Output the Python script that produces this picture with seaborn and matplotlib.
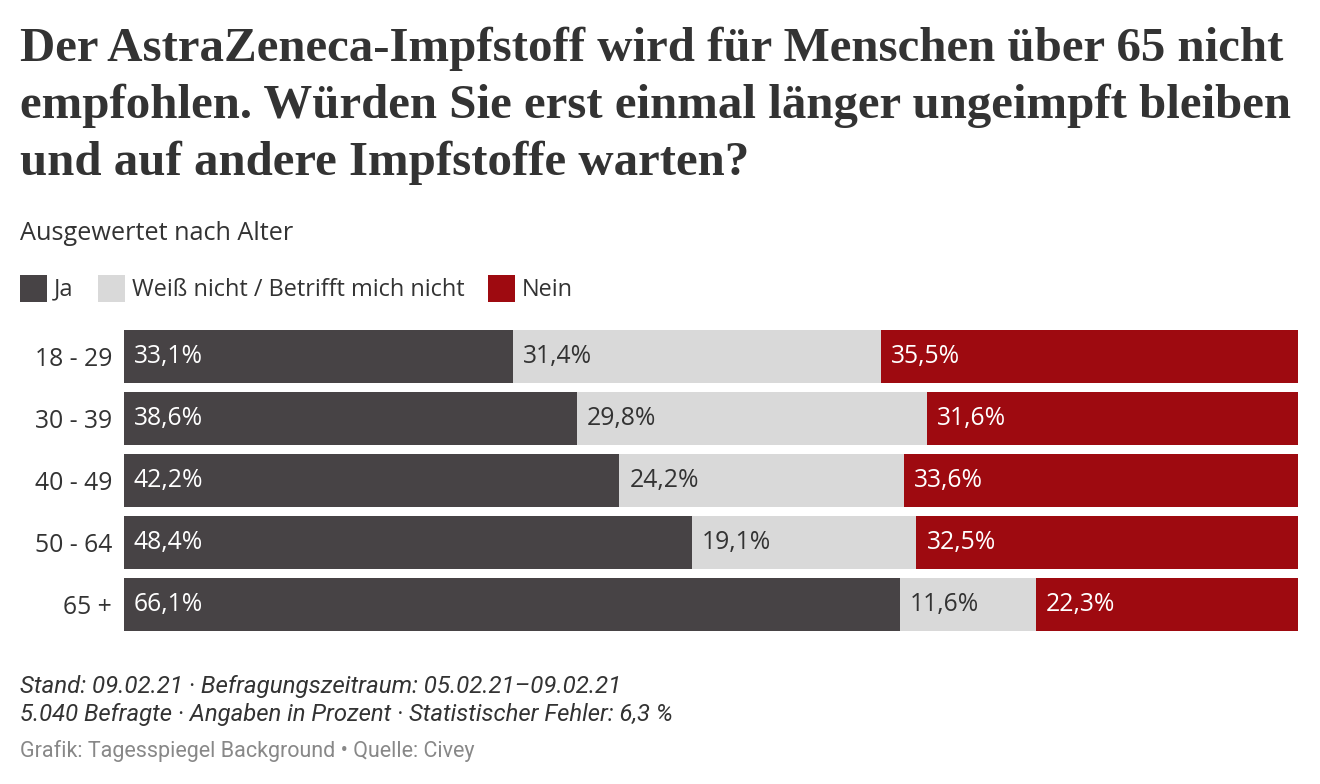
import matplotlib
matplotlib.use("Agg")
import matplotlib.pyplot as plt
import seaborn as sns
import numpy as np
import pandas as pd
from matplotlib.patches import Rectangle

ages = ["18 - 29", "30 - 39", "40 - 49", "50 - 64", "65 +"]
ja = [33.1, 38.6, 42.2, 48.4, 66.1]
weiss = [31.4, 29.8, 24.2, 19.1, 11.6]
nein = [35.5, 31.6, 33.6, 32.5, 22.3]
series_names = ["Ja", "Weiß nicht / Betrifft mich nicht", "Nein"]
colors = ["#474345", "#d9d9d9", "#9e0a10"]
label_colors = ["white", "#333333", "white"]

title_lines = ["Der AstraZeneca-Impfstoff wird für Menschen über 65 nicht",
               "empfohlen. Würden Sie erst einmal länger ungeimpft bleiben",
               "und auf andere Impfstoffe warten?"]
subtitle = "Ausgewertet nach Alter"
note1 = "Stand: 09.02.21 · Befragungszeitraum: 05.02.21–09.02.21"
note2 = "5.040 Befragte · Angaben in Prozent · Statistischer Fehler: 6,3 %"
source = "Grafik: Tagesspiegel Background • Quelle: Civey"

sns.set_theme(style="white")
SANS = ["Open Sans", "DejaVu Sans"]
plt.rcParams["font.family"] = SANS

W, H = 1320, 784
fig = plt.figure(figsize=(W / 100, H / 100), dpi=100)
fig.patch.set_facecolor("white")

ax = fig.add_axes([124 / W, (H - 631) / H, 1174 / W, 301 / H])

df = pd.DataFrame({"age": ages, "ja": ja, "weiss": weiss, "nein": nein})
df["c1"] = df["ja"]
df["c2"] = df["ja"] + df["weiss"]
df["c3"] = df["c2"] + df["nein"]

bw = 53 / 62
for col, c in zip(["c3", "c2", "c1"], colors[::-1]):
    sns.barplot(data=df, x=col, y="age", order=ages, color=c, width=bw,
                saturation=1, orient="h", ax=ax, linewidth=0, edgecolor="none")

ax.set_xlim(0, 100)
ax.set_ylim(len(ages) - 1 + bw / 2, -bw / 2)
ax.set_xlabel("")
ax.set_ylabel("")
ax.set_xticks([])
for s in ax.spines.values():
    s.set_visible(False)
ax.tick_params(axis="y", length=0, pad=8.6, labelsize=17.8, labelcolor="#333333")

off = 10 / 1174 * 100
for i in range(len(ages)):
    starts = [0, ja[i], ja[i] + weiss[i]]
    vals = [ja[i], weiss[i], nein[i]]
    for j in range(3):
        ax.text(starts[j] + off, i, f"{vals[j]:.1f}%".replace(".", ","),
                va="center", ha="left", fontsize=17.8, color=label_colors[j])

# Title
for k, (line, base) in enumerate(zip(title_lines, [61, 118, 175])):
    fig.text(20 / W, 1 - base / H, line, ha="left", va="baseline",
             fontsize=35.2, fontweight="bold", family=["Liberation Serif", "DejaVu Serif"],
             color="#333333")

fig.text(20 / W, 1 - 233 / H, subtitle, ha="left", va="center", fontsize=18.2, color="#333333")

# Legend
lx = [20, 98, 488]
for x0, name, c in zip(lx, series_names, colors):
    fig.patches.append(Rectangle((x0 / W, 1 - 302 / H), 27 / W, 27 / H,
                                 transform=fig.transFigure, facecolor=c, edgecolor="none"))
    fig.text((x0 + 34) / W, 1 - 289.5 / H, name, ha="left", va="center",
             fontsize=16.9, color="#333333")

FOOT = ["Roboto", "DejaVu Sans"]
fig.text(20 / W, 1 - 687 / H, note1, ha="left", va="center", fontsize=17.4,
         style="italic", color="#333333", family=FOOT)
fig.text(20 / W, 1 - 715 / H, note2, ha="left", va="center", fontsize=17.2,
         style="italic", color="#333333", family=FOOT)
fig.text(20 / W, 1 - 751 / H, source, ha="left", va="center", fontsize=15.5,
         color="#888888", family=FOOT)

fig.savefig("out.png", dpi=100, facecolor="white")
